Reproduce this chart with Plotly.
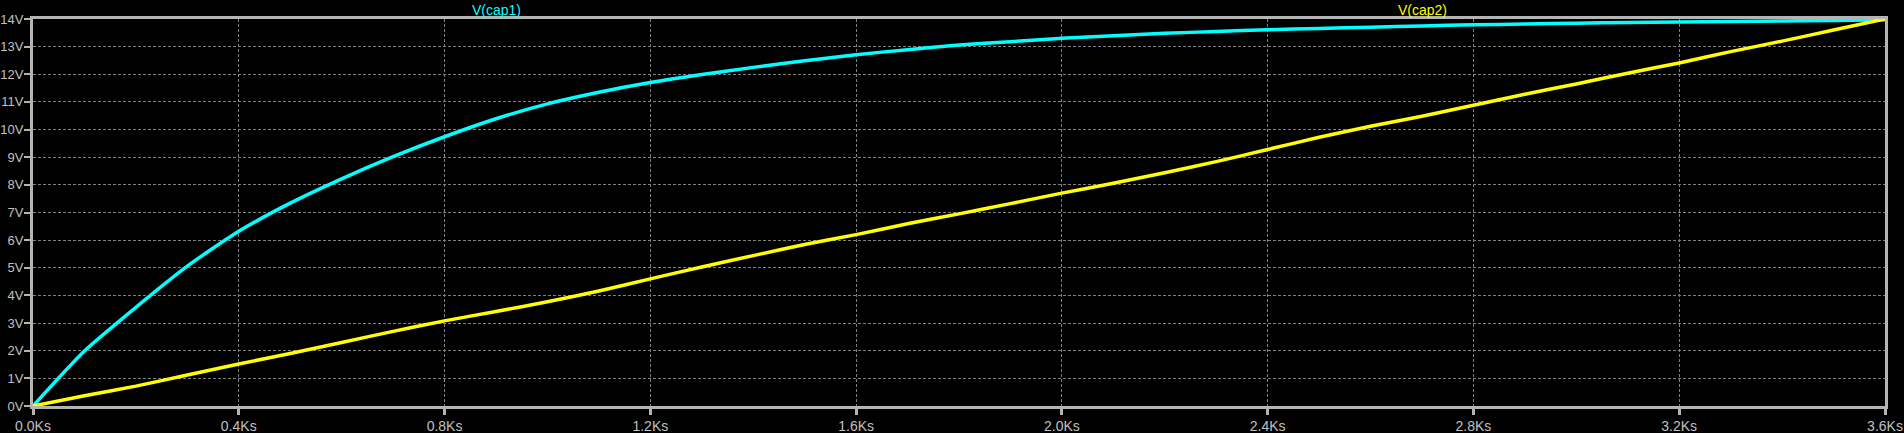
import plotly.graph_objects as go

# time in kiloseconds
t_ks = [0.0, 0.1, 0.2, 0.3, 0.4, 0.5, 0.6, 0.7, 0.8, 0.9, 1.0, 1.1, 1.2, 1.3, 1.4, 1.5,
        1.6, 1.7, 1.8, 1.9, 2.0, 2.1, 2.2, 2.3, 2.4, 2.5, 2.6, 2.7, 2.8, 2.9, 3.0, 3.1,
        3.2, 3.3, 3.4, 3.5, 3.6]

v_cap1 = [0.0, 1.99, 3.57, 5.06, 6.32, 7.34, 8.22, 9.02, 9.74, 10.39, 10.93, 11.35, 11.70,
          11.99, 12.25, 12.49, 12.71, 12.89, 13.06, 13.18, 13.30, 13.39, 13.48, 13.55, 13.61,
          13.66, 13.70, 13.75, 13.79, 13.82, 13.85, 13.87, 13.89, 13.91, 13.93, 13.95, 13.97]

v_cap2 = [0.0, 0.37, 0.72, 1.12, 1.52, 1.90, 2.30, 2.70, 3.08, 3.42, 3.77, 4.16, 4.60, 5.03,
          5.44, 5.84, 6.20, 6.59, 6.95, 7.32, 7.70, 8.06, 8.44, 8.84, 9.28, 9.72, 10.12,
          10.48, 10.88, 11.28, 11.65, 12.04, 12.41, 12.82, 13.20, 13.60, 14.0]

x_tick_vals = [0.0, 0.4, 0.8, 1.2, 1.6, 2.0, 2.4, 2.8, 3.2, 3.6]
x_tick_text = ["0.0Ks", "0.4Ks", "0.8Ks", "1.2Ks", "1.6Ks", "2.0Ks", "2.4Ks", "2.8Ks", "3.2Ks", "3.6Ks"]
y_tick_vals = list(range(0, 15))
y_tick_text = [f"{v}V" for v in y_tick_vals]

trace_names = ["V(cap1)", "V(cap2)"]
trace_colors = ["#00ffff", "#ffff00"]

AXIS = "#b4b4b4"
LABEL = "#c0c0c0"
GRID = "#808080"
FONT = "Liberation Sans, Arial, sans-serif"

fig = go.Figure()
for name, ys, col in zip(trace_names, [v_cap1, v_cap2], trace_colors):
    fig.add_trace(go.Scatter(x=t_ks, y=ys, mode="lines", name=name,
                             line=dict(color=col, width=3.5, shape="spline", smoothing=0.6),
                             showlegend=False))

fig.update_layout(
    width=1904, height=433,
    paper_bgcolor="black", plot_bgcolor="black",
    margin=dict(l=33, r=19, t=19, b=27, autoexpand=False),
    font=dict(family=FONT, size=14, color=LABEL),
)

fig.update_xaxes(
    range=[0, 3.6], tickvals=x_tick_vals, ticktext=x_tick_text,
    showline=True, linecolor=AXIS, linewidth=3, mirror=True,
    ticks="outside", ticklen=6, tickwidth=3, tickcolor=AXIS,
    showgrid=True, gridcolor=GRID, gridwidth=1, griddash="3px,2px",
    zeroline=False, automargin=False, ticklabelstandoff=-1,
    tickfont=dict(family=FONT, size=14, color=LABEL),
)
fig.update_yaxes(
    range=[0, 14], tickvals=y_tick_vals, ticktext=y_tick_text,
    showline=True, linecolor=AXIS, linewidth=3, mirror=True,
    ticks="outside", ticklen=6, tickwidth=2, tickcolor=AXIS,
    showgrid=True, gridcolor=GRID, gridwidth=1, griddash="3px,2px",
    zeroline=False, automargin=False, ticklabelstandoff=-2,
    tickfont=dict(family=FONT, size=13, color=LABEL),
)

for i, (name, col) in enumerate(zip(trace_names, trace_colors)):
    fig.add_annotation(text=name, xref="paper", yref="paper", x=0.25 + 0.5 * i, y=1,
                       xanchor="center", yanchor="bottom", showarrow=False, yshift=-1,
                       font=dict(family=FONT, size=14, color=col))

fig.write_html("out.html", config={"displayModeBar": False},
               post_script="document.body.style.margin='0';document.body.style.background='black';")
